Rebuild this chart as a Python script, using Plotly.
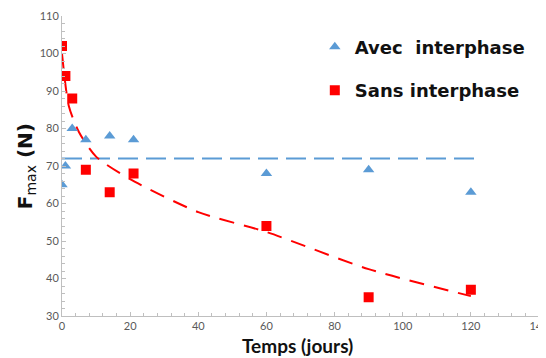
import plotly.graph_objects as go

# Data
avec_x = [0, 1, 3, 7, 14, 21, 60, 90, 120]
avec_y = [65, 70, 80, 77, 78, 77, 68, 69, 63]
sans_x = [0, 1, 3, 7, 14, 21, 60, 90, 120]
sans_y = [102, 94, 88, 69, 63, 68, 54, 35, 37]
avec_mean_x = [0, 122]
avec_mean_y = [72, 72]
trend_x = [0, 2, 5, 10, 20, 40, 60, 90, 120]
trend_y = [100, 86, 79, 72.5, 66.5, 57.7, 52.4, 42.5, 35.3]

blue = "#5b9bd5"
red = "#ff0000"

fig = go.Figure()
fig.add_trace(go.Scatter(x=avec_mean_x, y=avec_mean_y, mode="lines",
                         line=dict(color=blue, width=2, dash="20px,8px"),
                         showlegend=False, hoverinfo="skip"))
fig.add_trace(go.Scatter(x=trend_x, y=trend_y, mode="lines",
                         line=dict(color=red, width=2, dash="15px,10px", shape="spline", smoothing=0.7),
                         showlegend=False, hoverinfo="skip"))
fig.add_trace(go.Scatter(x=avec_x, y=avec_y, mode="markers", name="Avec  interphase",
                         marker=dict(symbol="triangle-up", size=10, color=blue),
                         legendgroup="a"))
fig.add_trace(go.Scatter(x=sans_x, y=sans_y, mode="markers", name="Sans interphase",
                         marker=dict(symbol="square", size=10, color=red),
                         legendgroup="b"))

tickfont = dict(family="Lato, Liberation Sans, sans-serif", size=11, color="#595959")
fig.update_layout(
    width=546, height=350,
    margin=dict(l=54, r=15, t=8, b=42, autoexpand=False),
    paper_bgcolor="white", plot_bgcolor="white",
    legend=dict(x=0.53, y=0.958, xanchor="left", yanchor="top",
                font=dict(family="DejaVu Sans", size=18, color="#111111", weight="bold"),
                tracegroupgap=17, bgcolor="rgba(0,0,0,0)", itemwidth=30),
    xaxis=dict(range=[0, 140], dtick=20, tick0=0, showgrid=False, zeroline=False,
               showline=True, linecolor="#bfbfbf", linewidth=1, automargin=False,
               ticks="inside", ticklen=4, tickcolor="#bfbfbf", tickfont=tickfont,
               ticklabeloverflow="allow",
               minor=dict(dtick=4, ticks="inside", ticklen=3, tickcolor="#bfbfbf")),
    yaxis=dict(range=[30, 110], dtick=10, showgrid=False, zeroline=False,
               showline=True, linecolor="#bfbfbf", linewidth=1, automargin=False,
               ticks="inside", ticklen=4, tickcolor="#bfbfbf", tickfont=tickfont,
               minor=dict(dtick=2, ticks="inside", ticklen=3, tickcolor="#bfbfbf")),
    annotations=[
        dict(text="<b>Temps (jours)</b>", xref="paper", yref="paper", x=0.493, y=-0.097,
             xanchor="center", yanchor="middle", showarrow=False,
             font=dict(family="Lato, DejaVu Sans", size=19, color="#111111")),
        dict(text="<b>F</b><sub>max</sub><b> (N)</b>", xref="paper", yref="paper", x=-0.075, y=0.5,
             xanchor="center", yanchor="middle", showarrow=False, textangle=-90,
             font=dict(family="DejaVu Sans", size=20, color="#111111")),
    ],
)
fig.write_html("out.html")
